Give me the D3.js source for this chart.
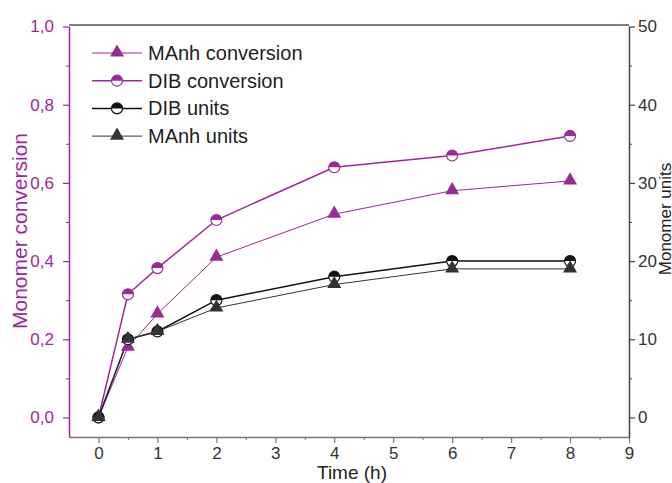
<!DOCTYPE html>
<html>
<head>
<meta charset="utf-8">
<script src="https://cdn.jsdelivr.net/npm/d3@7"></script>
<style>
  body { margin: 0; background: #fff; }
  svg { display: block; font-family: "Liberation Sans", Arial, sans-serif; }
</style>
</head>
<body>
<svg id="chart" width="672" height="483"></svg>
<script>
var times = [0, 0.5, 1, 2, 4, 6, 8];
var manhConversion = [0, 0.18, 0.265, 0.41, 0.52, 0.58, 0.605];
var dibConversion = [0, 0.315, 0.382, 0.505, 0.64, 0.67, 0.72];
var dibUnits = [0, 10, 11, 15, 18, 20, 20];
var manhUnits = [0, 10, 11, 14, 17, 19, 19];
var legendNames = ["MAnh conversion", "DIB conversion", "DIB units", "MAnh units"];

var purple = "#9a2a98";
var dark = "#111";

var svg = d3.select("#chart");
var plotLeft = 69, plotRight = 629, plotTop = 25, plotBottom = 437;

var x = d3.scaleLinear().domain([-0.5, 9]).range([plotLeft, plotRight]);
var yL = d3.scaleLinear().domain([-0.05, 1.0]).range([plotBottom, plotTop + 1.5]);
var yR = d3.scaleLinear().domain([-2.5, 50]).range([plotBottom, plotTop + 1.5]);

//#region frame and axes
svg.append("line").attr("x1", plotLeft).attr("x2", plotRight).attr("y1", plotTop).attr("y2", plotTop)
    .attr("stroke", "#555").attr("stroke-width", 1.5);

function styleAxis(g, color, textColor) {
    g.select(".domain").attr("stroke", color).attr("stroke-width", 1.5);
    g.selectAll(".tick line").attr("stroke", color).attr("stroke-width", 1.2);
    g.selectAll(".tick text").attr("fill", textColor).attr("font-size", 17);
}

var xAxis = svg.append("g").attr("transform", "translate(0," + plotBottom + ")")
    .call(d3.axisBottom(x).tickValues(d3.range(0, 10)).tickSize(6).tickSizeOuter(0).tickPadding(4));
styleAxis(xAxis, "#777", "#333");
svg.append("g").attr("transform", "translate(0," + plotBottom + ")")
    .call(d3.axisBottom(x).tickValues(d3.range(0.5, 9, 1)).tickSize(3).tickFormat(""))
    .call(function (g) { g.select(".domain").remove(); g.selectAll("line").attr("stroke", "#777"); });

var yAxisL = svg.append("g").attr("transform", "translate(" + plotLeft + ",0)")
    .call(d3.axisLeft(yL).tickValues(d3.range(0, 1.01, 0.2)).tickSize(6).tickSizeOuter(0).tickPadding(9)
        .tickFormat(function (d) { return d3.format(".1f")(d).replace(".", ","); }));
styleAxis(yAxisL, purple, purple);
svg.append("g").attr("transform", "translate(" + plotLeft + ",0)")
    .call(d3.axisLeft(yL).tickValues([0.1, 0.3, 0.5, 0.7, 0.9]).tickSize(3).tickFormat(""))
    .call(function (g) { g.select(".domain").remove(); g.selectAll("line").attr("stroke", purple); });

var yAxisR = svg.append("g").attr("transform", "translate(" + plotRight + ",0)")
    .call(d3.axisRight(yR).tickValues(d3.range(0, 51, 10)).tickSize(6).tickSizeOuter(0).tickPadding(3));
styleAxis(yAxisR, "#444", "#333");
svg.append("g").attr("transform", "translate(" + plotRight + ",0)")
    .call(d3.axisRight(yR).tickValues([5, 15, 25, 35, 45]).tickSize(3).tickFormat(""))
    .call(function (g) { g.select(".domain").remove(); g.selectAll("line").attr("stroke", "#444"); });

svg.append("text").text("Time (h)").attr("x", 352).attr("y", 479)
    .attr("text-anchor", "middle").attr("font-size", 19).attr("fill", "#222");
svg.append("text").text("Monomer conversion")
    .attr("transform", "translate(27,231) rotate(-90)")
    .attr("text-anchor", "middle").attr("font-size", 21).attr("fill", purple);
svg.append("text").text("Monomer units")
    .attr("transform", "translate(671,219) rotate(-90)")
    .attr("text-anchor", "middle").attr("font-size", 17).attr("fill", "#222");
//#endregion

//#region series
var series = [
    { vals: manhConversion, y: yL, color: purple, width: 1, marker: "tri" },
    { vals: dibConversion, y: yL, color: purple, width: 1.5, marker: "half" },
    { vals: dibUnits, y: yR, color: dark, width: 1.5, marker: "half" },
    { vals: manhUnits, y: yR, color: "#333", width: 1, marker: "tri" }
];

var tri = d3.symbol().type(d3.symbolTriangle).size(85);

function drawMarker(g, kind, color, cx, cy) {
    if (kind == "tri") {
        g.append("path").attr("d", tri()).attr("transform", "translate(" + cx + "," + (cy - 0.5) + ")")
            .attr("fill", color);
    } else {
        var r = 5.5;
        g.append("circle").attr("cx", cx).attr("cy", cy).attr("r", r)
            .attr("fill", "#fff").attr("stroke", color).attr("stroke-width", 1.2);
        g.append("path")
            .attr("d", "M" + (cx - r) + "," + cy + " A" + r + "," + r + " 0 0 1 " + (cx + r) + "," + cy + " Z")
            .attr("fill", color);
    }
}

series.forEach(function (s) {
    var line = d3.line().x(function (d, i) { return x(times[i]); }).y(function (d) { return s.y(d); });
    svg.append("path").datum(s.vals).attr("d", line).attr("fill", "none")
        .attr("stroke", s.color).attr("stroke-width", s.width);
});
series.forEach(function (s) {
    var g = svg.append("g");
    s.vals.forEach(function (v, i) {
        drawMarker(g, s.marker, s.color, x(times[i]), s.y(v));
    });
});
//#endregion

//#region legend
var legend = svg.append("g");
series.forEach(function (s, i) {
    var ly = 53 + i * 27.7;
    legend.append("line").attr("x1", 92).attr("x2", 142).attr("y1", ly).attr("y2", ly)
        .attr("stroke", s.color).attr("stroke-width", s.width);
    drawMarker(legend, s.marker, s.color, 117, ly);
    legend.append("text").text(legendNames[i]).attr("x", 148).attr("y", ly + 7)
        .attr("font-size", 20).attr("fill", "#222");
});
//#endregion
</script>
</body>
</html>
